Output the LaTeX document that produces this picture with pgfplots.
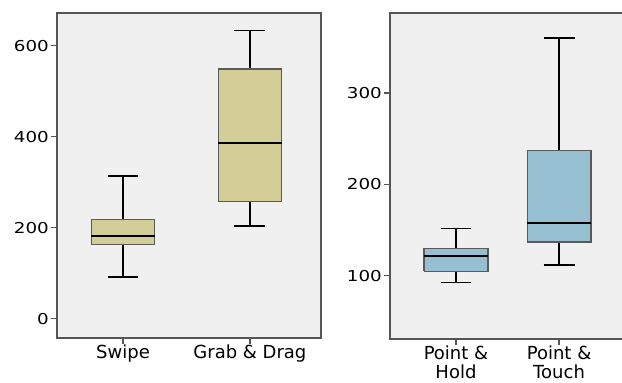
\documentclass[border=0pt]{standalone}
\usepackage{fontspec}
\setmainfont{DejaVu Sans}
\newfontfamily\tickfont{DejaVu Sans}[FakeStretch=1.22]
\usepackage{pgfplots}
\pgfplotsset{compat=1.18}
\definecolor{bgc}{HTML}{F0F0F0}
\definecolor{axc}{HTML}{555555}
\definecolor{boxc}{HTML}{5A5A5A}
\definecolor{tanf}{HTML}{D3CE97}
\definecolor{bluef}{HTML}{96BFD1}
\pgfplotsset{
  common/.style={
    scale only axis,
    anchor=south west,
    axis background/.style={fill=bgc},
    axis line style={draw=axc, line width=1.2pt},
    tick style={draw=axc, line width=1.2pt},
    tick align=outside,
    major tick length=6pt,
    tick pos=left,
    xtick={1,2},
    /pgf/number format/assume math mode=true,
    yticklabel style={font=\tickfont\fontsize{15}{18}\selectfont, inner sep=2pt},
    xticklabel style={font=\fontsize{18}{19.5}\selectfont, align=center, inner sep=1pt, yshift=0.5pt},
  },
  bx/.style={draw=boxc, line width=1.2pt, mark=none},
  wh/.style={draw=black, line width=1.5pt, mark=none},
  md/.style={draw=black, line width=2pt, mark=none},
}
\begin{document}
\begin{tikzpicture}
\useasboundingbox (0pt,0pt) rectangle (622pt,383pt);
\begin{axis}[common,
  at={(57pt,45pt)}, width=264pt, height=325pt,
  xmin=0.48, xmax=2.56, ymin=-42, ymax=672,
  ytick={0,200,400,600},
  xticklabels={Swipe, Grab \& Drag}]
% Swipe: LW 92, Q1 163, M 182, Q3 218, UW 314
\addplot[wh] coordinates {(1,218) (1,314)};
\addplot[wh] coordinates {(0.878,314) (1.122,314)};
\addplot[wh] coordinates {(1,163) (1,92)};
\addplot[wh] coordinates {(0.878,92) (1.122,92)};
\addplot[bx, fill=tanf] coordinates {(0.75,163) (1.25,163) (1.25,218) (0.75,218) (0.75,163)};
\addplot[md] coordinates {(0.75,182) (1.25,182)};
% Grab & Drag: LW 204, Q1 257, M 387, Q3 549, UW 633
\addplot[wh] coordinates {(2,549) (2,633)};
\addplot[wh] coordinates {(1.878,633) (2.122,633)};
\addplot[wh] coordinates {(2,257) (2,204)};
\addplot[wh] coordinates {(1.878,204) (2.122,204)};
\addplot[bx, fill=tanf] coordinates {(1.75,257) (2.25,257) (2.25,549) (1.75,549) (1.75,257)};
\addplot[md] coordinates {(1.75,387) (2.25,387)};
\end{axis}
\begin{axis}[common,
  at={(390pt,44pt)}, width=234pt, height=326pt,
  xmin=0.36, xmax=2.63, ymin=31, ymax=387.4,
  ytick={100,200,300},
  xticklabels={{Point \&\\Hold}, {Point \&\\Touch}}]
% Point & Hold: LW 93, Q1 105, M 122, Q3 130, UW 152
\addplot[wh] coordinates {(1,130) (1,152)};
\addplot[wh] coordinates {(0.85,152) (1.15,152)};
\addplot[wh] coordinates {(1,105) (1,93)};
\addplot[wh] coordinates {(0.85,93) (1.15,93)};
\addplot[bx, fill=bluef] coordinates {(0.69,105) (1.31,105) (1.31,130) (0.69,130) (0.69,105)};
\addplot[md] coordinates {(0.69,122) (1.31,122)};
% Point & Touch: LW 112, Q1 137, M 158, Q3 237, UW 360
\addplot[wh] coordinates {(2,237) (2,360)};
\addplot[wh] coordinates {(1.85,360) (2.15,360)};
\addplot[wh] coordinates {(2,137) (2,112)};
\addplot[wh] coordinates {(1.85,112) (2.15,112)};
\addplot[bx, fill=bluef] coordinates {(1.69,137) (2.31,137) (2.31,237) (1.69,237) (1.69,137)};
\addplot[md] coordinates {(1.69,158) (2.31,158)};
\end{axis}
\end{tikzpicture}
\end{document}
